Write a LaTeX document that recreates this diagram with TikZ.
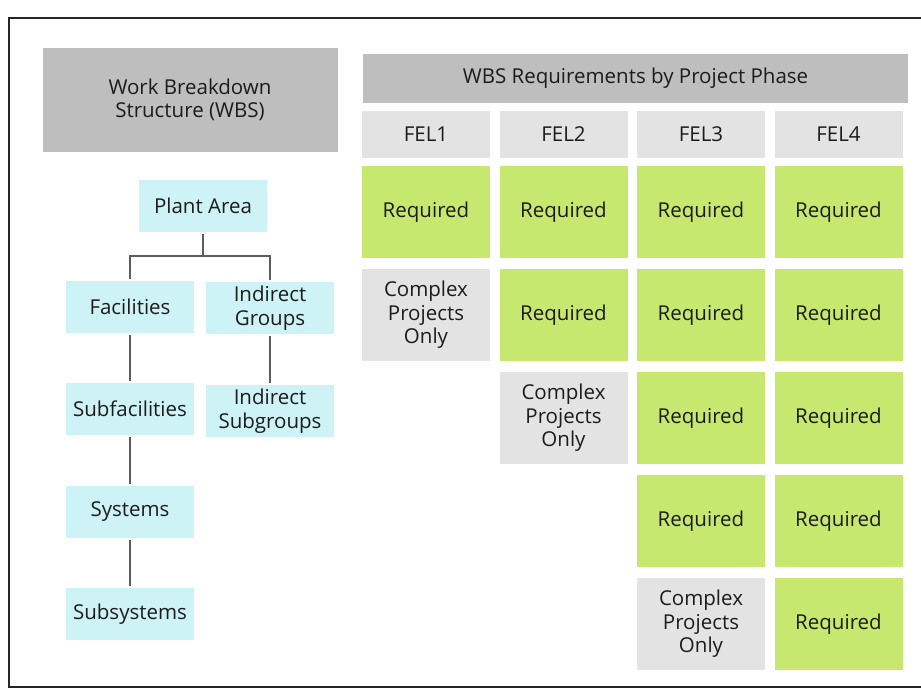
\documentclass[tikz,border=0pt]{standalone}
\usepackage{fontspec}
\setmainfont{Open Sans}
\begin{document}
\begin{tikzpicture}[x=1pt,y=-1pt,
  lbl/.style={font=\fontsize{20.5}{23.5}\selectfont, text=inkc, align=center, inner sep=0pt},
  darkhdr/.style={lbl, fill=hdrgray},
  phase/.style={lbl, fill=cellgray, minimum width=128pt, minimum height=47pt},
  req/.style={lbl, fill=reqgreen, minimum width=128pt, minimum height=92pt},
  cplx/.style={lbl, fill=cellgray, minimum width=128pt, minimum height=92pt},
  wbsbox/.style={lbl, fill=wbscyan, minimum width=128pt, minimum height=52pt},
  link/.style={draw=linkgray, line width=2.8pt, shorten <=2pt, shorten >=2pt},
  frameline/.style={draw=black!85, line width=1.8pt}
]
\definecolor{inkc}{HTML}{1E1B1C}
\definecolor{hdrgray}{HTML}{BEBEBE}
\definecolor{cellgray}{HTML}{E3E3E3}
\definecolor{reqgreen}{HTML}{C6E86E}
\definecolor{wbscyan}{HTML}{CDF3F6}
\definecolor{linkgray}{HTML}{5C5C5C}

\useasboundingbox (0,0) rectangle (921,693);
\clip (0,0) rectangle (921,693);
\fill[white] (0,0) rectangle (921,693);

% page frame, open on the right
\draw[frameline] (940,18) -- (9,18) -- (9,687) -- (940,687);

% left panel: WBS hierarchy
\node[darkhdr, minimum width=295pt, minimum height=104pt] (wbshdr) at (190,100)
  {Work Breakdown\\Structure (WBS)};
\node[wbsbox] (plant) at (203,206) {Plant Area};
\node[wbsbox] (fac)   at (130,307) {Facilities};
\node[wbsbox] (igrp)  at (270,308) {Indirect\\Groups};
\node[wbsbox] (sfac)  at (130,409) {Subfacilities};
\node[wbsbox] (isub)  at (270,411) {Indirect\\Subgroups};
\node[wbsbox] (sys)   at (130,512) {Systems};
\node[wbsbox] (ssys)  at (130,614) {Subsystems};

\coordinate (jn) at (203,256);
\draw[link, shorten >=0pt] (plant.south) -- (jn);
\draw[link, shorten <=0pt] (jn) -| (fac.north);
\draw[link, shorten <=0pt] (jn) -| (igrp.north);
\draw[link] (fac.south) -- (sfac.north);
\draw[link] (sfac.south) -- (sys.north);
\draw[link] (sys.south) -- (ssys.north);
\draw[link] (igrp.south) -- (isub.north);

% right panel: requirements by phase
\node[darkhdr, minimum width=545pt, minimum height=49pt] (reqhdr) at (635.5,78.5)
  {WBS Requirements by Project Phase};

\node[phase] (fel1) at (426,134.5) {FEL1};
\node[phase] (fel2) at (563.5,134.5) {FEL2};
\node[phase] (fel3) at (701,134.5) {FEL3};
\node[phase] (fel4) at (838.5,134.5) {FEL4};

% row 1
\node[req]  (c11) at (426,212)   {Required};
\node[req]  (c12) at (563.5,212) {Required};
\node[req]  (c13) at (701,212)   {Required};
\node[req]  (c14) at (838.5,212) {Required};
% row 2
\node[cplx] (c21) at (426,315)   {Complex\\Projects\\Only};
\node[req]  (c22) at (563.5,315) {Required};
\node[req]  (c23) at (701,315)   {Required};
\node[req]  (c24) at (838.5,315) {Required};
% row 3
\node[cplx] (c32) at (563.5,418) {Complex\\Projects\\Only};
\node[req]  (c33) at (701,418)   {Required};
\node[req]  (c34) at (838.5,418) {Required};
% row 4
\node[req]  (c43) at (701,521)   {Required};
\node[req]  (c44) at (838.5,521) {Required};
% row 5
\node[cplx] (c53) at (701,624)   {Complex\\Projects\\Only};
\node[req]  (c54) at (838.5,624) {Required};
\end{tikzpicture}
\end{document}
